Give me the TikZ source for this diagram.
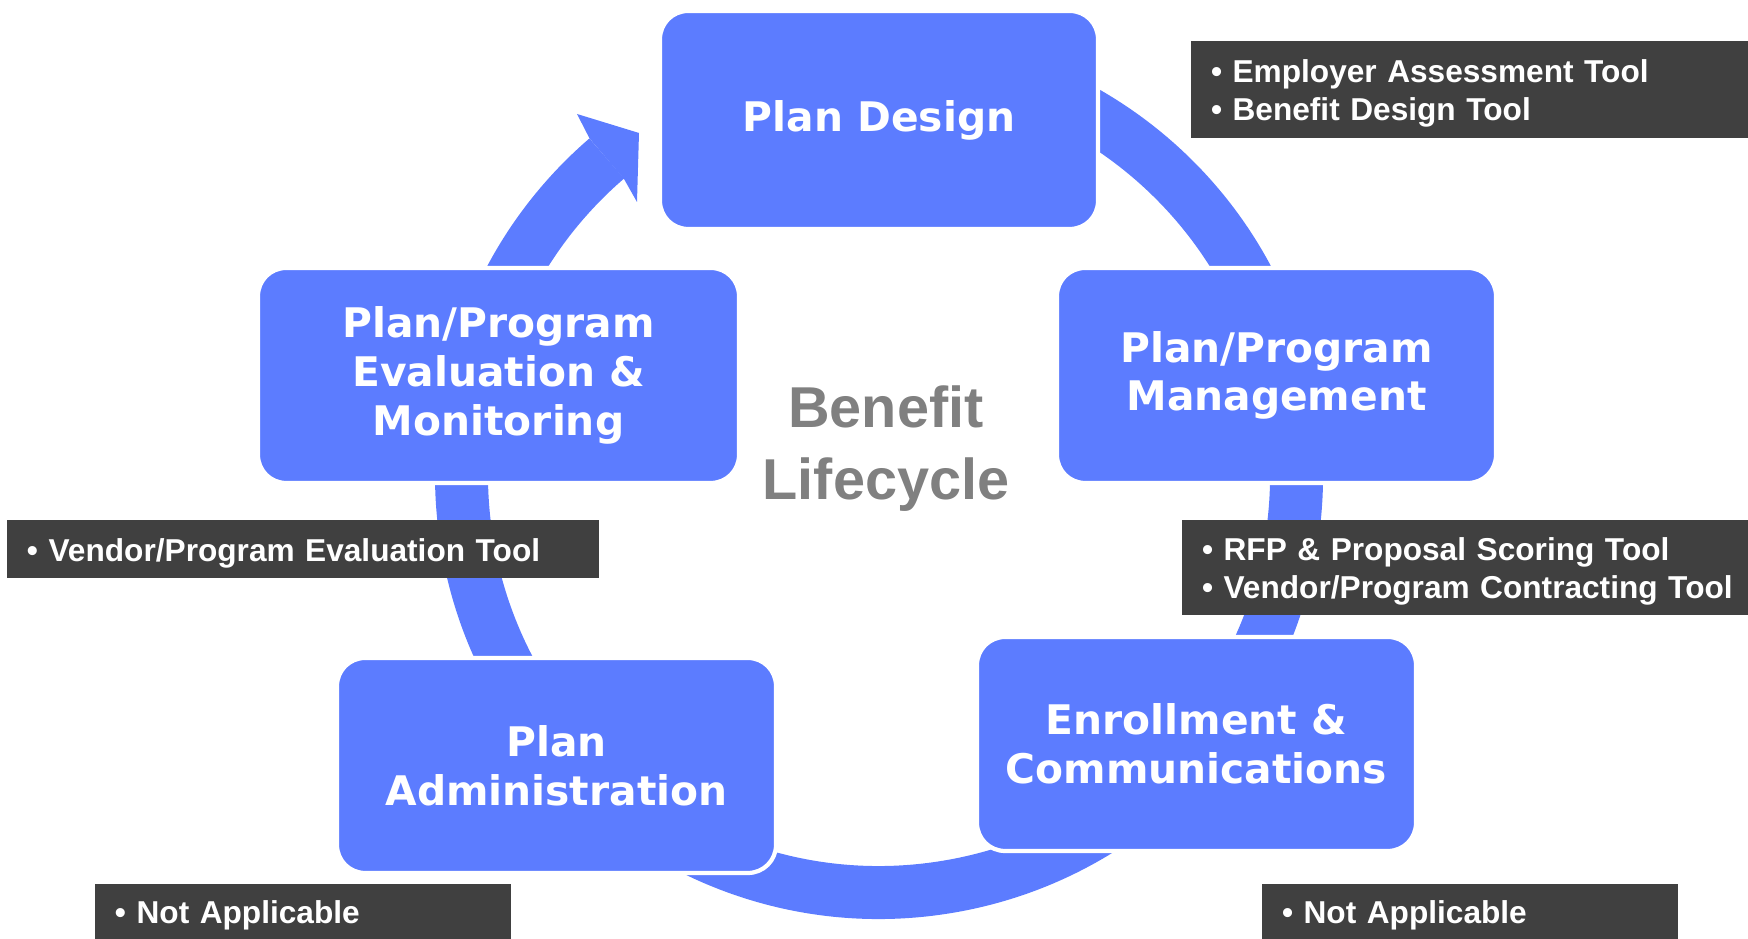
\documentclass[tikz,border=0pt]{standalone}
\usepackage{fontspec}
\setmainfont{Liberation Sans}
\newfontfamily\stagefont{DejaVu Sans}
\usepackage{tikz}
\usetikzlibrary{positioning}
\definecolor{cycleblue}{RGB}{92,124,255}
\definecolor{tooldark}{RGB}{64,64,64}
\definecolor{centergrey}{RGB}{128,128,128}
\newcommand{\toolitem}{\rule{0pt}{8.8pt}\hspace*{0.2cm}\textbullet\ }

\begin{document}
\begin{tikzpicture}
        \tikzset{
          stage/.style={fill=cycleblue, draw=white, line width=1.2pt, rounded corners=0.28cm, align=center,
            text=white, inner sep=0pt, font=\stagefont\bfseries\fontsize{11.6}{13.9}\selectfont},
          tools/.style={fill=tooldark, text=white, inner xsep=0pt, inner ysep=0pt,
            align=left, font=\bfseries\fontsize{9}{10.8}\selectfont},
        }
        \useasboundingbox (0,0) rectangle (17.48,9.39);
        \coordinate (hub) at (8.79,4.64);
        % ring and its arrow head
        \draw[cycleblue, line width=0.53cm] (hub) ++(100:4.175) arc[start angle=100, end angle=-229.3, radius=4.175];
        \fill[cycleblue] (5.895,8.006) -- (5.77,8.25) -- (6.39,8.06) -- (6.37,7.37) -- (6.24,7.60) -- cycle;
        % 
        \node[stage, minimum width=4.38cm, minimum height=2.18cm] (design) at (8.79,8.19) {Plan Design};
        \node[stage, minimum width=4.39cm, minimum height=2.15cm] (manage) at (12.765,5.635) {Plan/Program\\Management};
        \node[stage, minimum width=4.39cm, minimum height=2.14cm] (enroll) at (11.965,1.95) {Enrollment \&\\Communications};
        \node[stage, minimum width=4.39cm, minimum height=2.15cm] (admin) at (5.565,1.735) {Plan\\Administration};
        \node[stage, minimum width=4.81cm, minimum height=2.15cm] (evaluate) at (4.985,5.635) {Plan/Program\\Evaluation \&\\Monitoring};
        % 
        \node[text=centergrey, align=center, font=\bfseries\fontsize{16.4}{20.6}\selectfont] (lifecycle) at (8.86,4.905) {Benefit\\Lifecycle};
        % 
        \node[tools, text width=5.57cm, minimum height=0.97cm] (designtools) at (14.695,8.495) {\toolitem Employer Assessment Tool\\\toolitem Benefit Design Tool};
        \node[tools, text width=5.66cm, minimum height=0.95cm] (managetools) at (14.65,3.715) {\toolitem RFP \& Proposal Scoring Tool\\\toolitem Vendor/Program Contracting Tool};
        \node[tools, text width=5.92cm, minimum height=0.58cm] (evaltools) at (3.03,3.90) {\toolitem Vendor/Program Evaluation Tool};
        \node[tools, text width=4.16cm, minimum height=0.55cm] (admintools) at (3.03,0.275) {\toolitem Not Applicable};
        \node[tools, text width=4.16cm, minimum height=0.55cm] (enrolltools) at (14.70,0.275) {\toolitem Not Applicable};
    \end{tikzpicture}
\end{document}
